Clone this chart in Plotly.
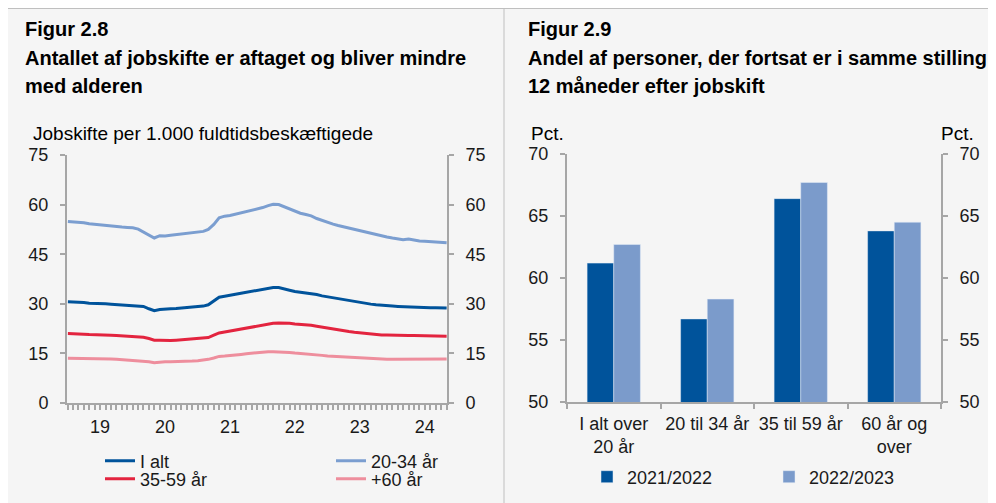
import pandas as pd
import plotly.graph_objects as go

# Figur 2.8 - jobskifte per 1.000 fuldtidsbeskæftigede, månedlig
months = pd.date_range("2019-01-01", periods=71, freq="MS")

i_alt = [30.6, 30.6, 30.5, 30.4, 30.2, 30.2, 30.1, 30.0, 29.9, 29.8, 29.7, 29.6,
         29.5, 29.4, 29.2, 28.5, 27.9, 28.3, 28.3, 28.5, 28.6, 28.7, 28.9, 29.0,
         29.1, 29.3, 29.7, 30.8, 32.0, 32.3, 32.5, 32.9, 33.2, 33.5, 33.8, 34.1,
         34.4, 34.7, 34.9, 34.9, 34.6, 34.1, 33.7, 33.5, 33.4, 33.2, 32.8, 32.4,
         32.1, 31.8, 31.5, 31.2, 30.9, 30.7, 30.4, 30.1, 29.9, 29.7, 29.5, 29.4,
         29.3, 29.2, 29.1, 29.2, 29.0, 28.9, 28.9, 28.8, 28.8, 28.8, 28.7]

aar_20_34 = [54.9, 54.8, 54.6, 54.5, 54.2, 54.0, 53.9, 53.8, 53.6, 53.4, 53.2, 53.1,
             53.0, 52.6, 51.8, 50.8, 49.9, 50.6, 50.5, 50.7, 50.9, 51.0, 51.2, 51.4,
             51.6, 51.9, 52.5, 54.0, 56.0, 56.5, 56.7, 57.1, 57.6, 57.9, 58.3, 58.6,
             59.1, 59.7, 60.1, 60.0, 59.3, 58.7, 58.0, 57.4, 57.0, 56.6, 55.8, 55.2,
             54.6, 54.1, 53.7, 53.3, 52.9, 52.4, 52.0, 51.7, 51.2, 50.8, 50.5, 50.2,
             49.9, 49.7, 49.4, 49.6, 49.2, 49.0, 48.9, 48.8, 48.7, 48.6, 48.5]

aar_35_59 = [21.0, 21.0, 20.9, 20.8, 20.7, 20.7, 20.6, 20.6, 20.5, 20.4, 20.3, 20.2,
             20.1, 20.0, 19.9, 19.5, 19.0, 19.0, 18.9, 18.9, 19.0, 19.1, 19.2, 19.4,
             19.5, 19.6, 19.8, 20.5, 21.2, 21.5, 21.8, 22.1, 22.4, 22.7, 23.0, 23.3,
             23.7, 23.9, 24.1, 24.2, 24.2, 24.1, 23.9, 23.8, 23.7, 23.5, 23.2, 22.9,
             22.6, 22.4, 22.1, 21.9, 21.6, 21.4, 21.2, 21.0, 20.8, 20.7, 20.6, 20.6,
             20.5, 20.6, 20.4, 20.4, 20.4, 20.4, 20.3, 20.3, 20.3, 20.3, 20.2]

aar_60 = [13.5, 13.5, 13.4, 13.4, 13.3, 13.5, 13.4, 13.3, 13.3, 13.2, 13.1, 13.1,
          13.0, 12.9, 12.8, 12.5, 12.2, 12.4, 12.5, 12.5, 12.5, 12.6, 12.6, 12.7,
          12.8, 12.9, 13.2, 13.6, 14.1, 14.2, 14.3, 14.5, 14.7, 14.9, 15.1, 15.2,
          15.4, 15.5, 15.5, 15.5, 15.4, 15.3, 15.1, 15.0, 14.9, 14.8, 14.6, 14.4,
          14.2, 14.1, 13.9, 13.8, 13.7, 13.6, 13.5, 13.4, 13.3, 13.2, 13.2, 13.2,
          13.2, 13.2, 13.3, 13.3, 13.3, 13.3, 13.3, 13.3, 13.3, 13.3, 13.3]

year_ticks = ["2019-07-01", "2020-07-01", "2021-07-01", "2022-07-01", "2023-07-01", "2024-07-01"]
year_labels = ["19", "20", "21", "22", "23", "24"]

# Figur 2.9 - andel i samme stilling 12 mdr. efter jobskift
grupper = ["I alt over<br>20 år", "20 til 34 år", "35 til 59 år", "60 år og<br>over"]
andel_2122 = [61.2, 56.7, 66.4, 63.8]
andel_2223 = [62.7, 58.3, 67.7, 64.5]

W, H = 996, 503
OFF = 8  # siden har 8 px body-margin
FONT = "Liberation Sans, Arial, sans-serif"
AXCOL = "#A6A6A6"
BG = "#F5F5F5"

def px_x(p):
    return (p - OFF) / W

def px_y(p):
    return 1 - (p - OFF) / H

fig = go.Figure()

lines = [
    ("I alt", i_alt, "#00539B", "legend"),
    ("20-34 år", aar_20_34, "#7B9ED0", "legend3"),
    ("35-59 år", aar_35_59, "#E3243F", "legend4"),
    ("+60 år", aar_60, "#EE8E9D", "legend5"),
]
for name, vals, col, lg in lines:
    fig.add_trace(go.Scatter(x=months, y=vals, name=name, mode="lines",
                             line=dict(color=col, width=3), legend=lg,
                             xaxis="x", yaxis="y"))

fig.add_trace(go.Bar(x=grupper, y=andel_2122, name="2021/2022", marker_color="#00539B",
                     legend="legend2", xaxis="x2", yaxis="y2"))
fig.add_trace(go.Bar(x=grupper, y=andel_2223, name="2022/2023", marker_color="#7B9BCB",
                     legend="legend2", xaxis="x2", yaxis="y2"))

# usynlige spor så de højre akser tegnes
fig.add_trace(go.Scatter(x=[months[0]], y=[0], xaxis="x", yaxis="y3", showlegend=False,
                         mode="markers", marker_opacity=0, hoverinfo="skip"))
fig.add_trace(go.Scatter(x=[grupper[0]], y=[50], xaxis="x2", yaxis="y4", showlegend=False,
                         mode="markers", marker_opacity=0, hoverinfo="skip"))

tickfont = dict(family=FONT, size=18, color="#1A1A1A")
yax = dict(showline=True, linecolor=AXCOL, linewidth=2, ticks="outside", ticklen=5,
           tickcolor=AXCOL, tickwidth=2, showgrid=False, zeroline=False,
           tickfont=tickfont, ticklabelstandoff=8, fixedrange=True, automargin=False)

left_dom_y = [px_y(403), px_y(155)]
right_dom_y = [px_y(402), px_y(154)]

def lgd(x, y, **kw):
    d = dict(x=px_x(x), y=px_y(y), xanchor="left", yanchor="middle",
             bgcolor="rgba(0,0,0,0)", font=dict(family=FONT, size=18, color="#1A1A1A"))
    d.update(kw)
    return d

fig.update_layout(
    width=W, height=H,
    margin=dict(l=0, r=0, t=0, b=0, autoexpand=False),
    paper_bgcolor=BG, plot_bgcolor=BG,
    barmode="group", bargap=0.43, bargroupgap=0,
    font=dict(family=FONT, color="#1A1A1A"),
    xaxis=dict(domain=[px_x(67), px_x(447)], anchor="y", type="date",
               range=["2018-12-27", "2024-11-03"],
               tickvals=year_ticks, ticktext=year_labels,
               showline=True, linecolor=AXCOL, linewidth=2,
               ticks="outside", ticklen=5, tickcolor=AXCOL, tickwidth=1.5,
               minor=dict(ticks="outside", dtick="M1", ticklen=5, tickcolor=AXCOL, tickwidth=1.5),
               showgrid=False, tickfont=tickfont, ticklabelstandoff=1, automargin=False),
    yaxis=dict(yax, domain=left_dom_y, anchor="x", range=[0, 75], dtick=15),
    yaxis3=dict(yax, overlaying="y", side="right", anchor="x", range=[0, 75], dtick=15),
    xaxis2=dict(domain=[px_x(567), px_x(941)], anchor="y2", type="category",
                showline=True, linecolor=AXCOL, linewidth=2, ticks="outside",
                ticklen=5, tickcolor=AXCOL, tickwidth=2, tickson="boundaries",
                tickangle=0, showgrid=False, tickfont=tickfont, ticklabelstandoff=4,
                automargin=False),
    yaxis2=dict(yax, domain=right_dom_y, anchor="x2", range=[50, 70], dtick=5),
    yaxis4=dict(yax, overlaying="y2", side="right", anchor="x2", range=[50, 70], dtick=5),
    legend=lgd(100, 461),
    legend4=lgd(100, 479),
    legend3=lgd(331, 461),
    legend5=lgd(331, 479),
    legend2=lgd(587, 477, orientation="h", entrywidth=137),
    showlegend=True,
)

# kant øverst og skillelinje mellem figurerne
fig.add_shape(type="line", xref="paper", yref="paper", x0=0, x1=1, y0=0.999, y1=0.999,
              line=dict(color="#BFBFBF", width=1))
fig.add_shape(type="line", xref="paper", yref="paper", x0=px_x(504), x1=px_x(504), y0=0, y1=1,
              line=dict(color="#BFBFBF", width=1))

def tekst(txt, x, y, size=18, bold=False, anchor="left"):
    fig.add_annotation(text=f"<b>{txt}</b>" if bold else txt, x=px_x(x), y=px_y(y),
                       xref="paper", yref="paper", xanchor=anchor, yanchor="middle",
                       showarrow=False, font=dict(family=FONT, size=size, color="#000000"))

tekst("Figur 2.8", 23, 29, 20, True)
tekst("Antallet af jobskifte er aftaget og bliver mindre", 23, 58, 20, True)
tekst("med alderen", 23, 86, 20, True)
tekst("Jobskifte per 1.000 fuldtidsbeskæftigede", 31, 134, 19)

tekst("Figur 2.9", 526, 29, 20, True)
tekst("Andel af personer, der fortsat er i samme stilling", 526, 58, 20, True)
tekst("12 måneder efter jobskift", 526, 86, 20, True)
tekst("Pct.", 529, 134, 19)
tekst("Pct.", 939, 134, 19)

fig.write_html("out.html")
